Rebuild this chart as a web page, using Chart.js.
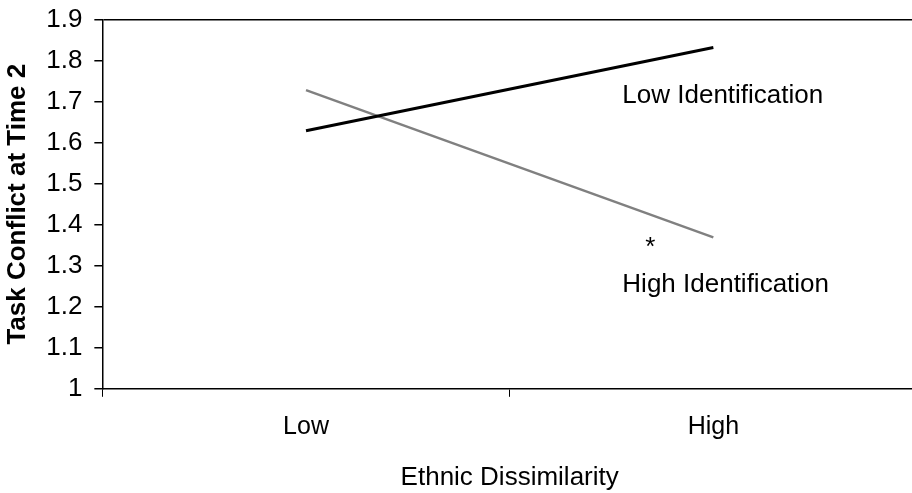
<!DOCTYPE html>
<html>
<head>
<meta charset="utf-8">
<script src="https://cdn.jsdelivr.net/npm/chart.js@4.4.0/dist/chart.umd.min.js"></script>
<style>
  html, body { margin: 0; padding: 0; background: #fff; overflow: hidden; }
  #wrap { width: 912px; height: 493px; overflow: hidden; position: relative; }
  #chart { position: absolute; left: 0; top: -8px; }
</style>
</head>
<body>
<div id="wrap"><canvas id="chart" width="917" height="501"></canvas></div>
<script>
const categories = ['Low', 'High'];
const lowIdentification = [1.629, 1.832];
const highIdentification = [1.728, 1.369];
const yTicks = [1, 1.1, 1.2, 1.3, 1.4, 1.5, 1.6, 1.7, 1.8, 1.9];

const font = "'Liberation Sans', Arial, sans-serif";

// text labels placed next to the lines
const annotations = {
  id: 'annotations',
  afterDraw(chart){
    const ctx = chart.ctx;
    const x = chart.scales.x;
    const y = chart.scales.y;
    const hi = x.getPixelForValue(1);
    ctx.save();
    ctx.fillStyle = '#000';
    ctx.textBaseline = 'alphabetic';
    ctx.textAlign = 'left';
    ctx.font = '26px ' + font;
    ctx.fillText('Low Identification', hi - 91, y.getPixelForValue(1.696));
    ctx.fillText('High Identification', hi - 91, y.getPixelForValue(1.237));
    ctx.textAlign = 'center';
    ctx.fillText('*', hi - 63, y.getPixelForValue(1.327));
    ctx.restore();
  }
};

new Chart(document.getElementById('chart'), {
  type: 'line',
  plugins: [annotations],
  data: {
    labels: categories,
    datasets: [{
      label: 'Low Identification',
      data: lowIdentification,
      borderColor: '#000',
      borderWidth: 3,
      pointRadius: 0,
      tension: 0
    },{
      label: 'High Identification',
      data: highIdentification,
      borderColor: '#808080',
      borderWidth: 2.5,
      pointRadius: 0,
      tension: 0
    }]
  },
  options: {
    responsive: false,
    animation: false,
    events: [],
    layout: {
      padding: {top: 2, right: 0, bottom: 0, left: 0}
    },
    plugins: {
      legend: false,
      tooltip: {enabled: false}
    },
    scales: {
      x: {
        offset: true,
        grid: {
          drawOnChartArea: false,
          tickLength: 8,
          tickColor: '#000',
          offset: true
        },
        border: {color: '#000', width: 1.5},
        ticks: {
          color: '#000',
          padding: 15,
          font: {family: font, size: 25}
        },
        title: {
          display: true,
          text: 'Ethnic Dissimilarity',
          color: '#000',
          font: {family: font, size: 26},
          padding: {top: 5, bottom: 0}
        }
      },
      y: {
        min: 1,
        max: 1.9,
        afterBuildTicks: function(scale){
          scale.ticks = yTicks.map(v => ({value: v}));
        },
        grid: {
          color: ctx => (ctx.tick && ctx.tick.value === 1.9) ? '#000' : 'rgba(0,0,0,0)',
          lineWidth: 1.5,
          tickLength: 8,
          tickColor: '#000'
        },
        border: {color: '#000', width: 1.5},
        ticks: {
          color: '#000',
          padding: 12,
          font: {family: font, size: 26},
          callback: v => String(Math.round(v * 10) / 10)
        },
        title: {
          display: true,
          text: 'Task Conflict at Time 2',
          color: '#000',
          font: {family: font, size: 26, weight: 'bold'},
          padding: {top: 2, bottom: 1}
        }
      }
    }
  }
});
</script>
</body>
</html>
